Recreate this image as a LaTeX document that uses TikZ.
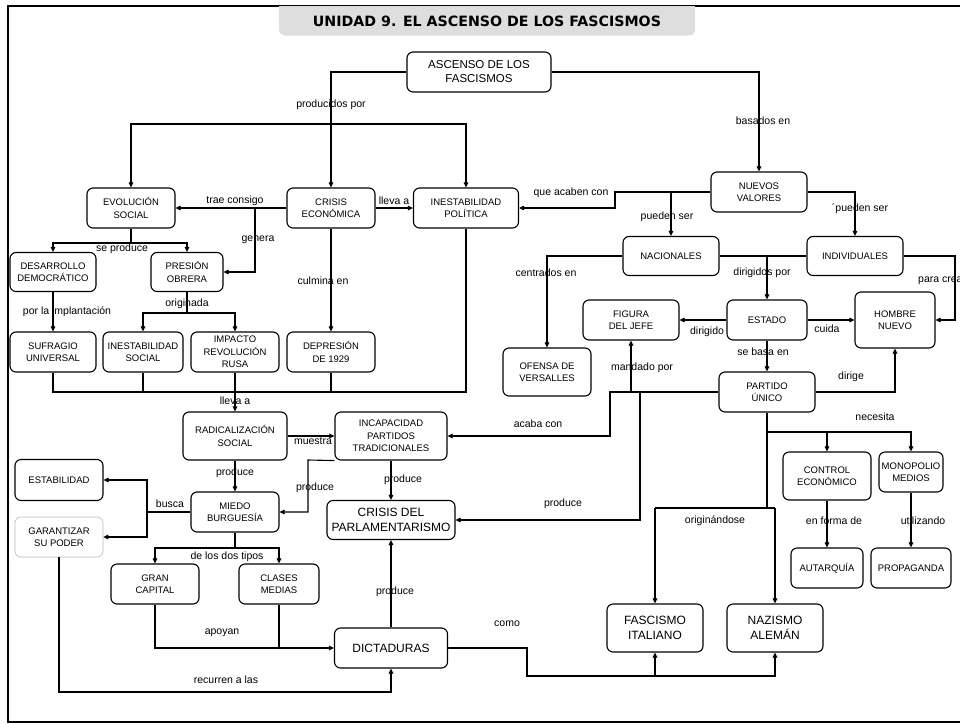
\documentclass[tikz,border=0pt]{standalone}
\usepackage{fontspec}
\setmainfont{Liberation Sans}
\newfontfamily\titlefont{DejaVu Sans}
\usetikzlibrary{arrows.meta}
\definecolor{title_gray}{RGB}{222,222,222}

\begin{document}
\begin{tikzpicture}[
    x=1pt, y=-1pt,
    box/.style={draw, rounded corners=6pt, line width=1.1pt, align=center,
                minimum width=88pt, minimum height=40pt, inner sep=1pt,
                font=\fontsize{9.5}{12.5}\selectfont},
    bigbox/.style={box, font=\fontsize{12}{15.5}\selectfont},
    lbl/.style={inner sep=0pt, font=\fontsize{10.5}{12}\selectfont},
    link/.style={line width=1.1pt},
    titlebox/.style={fill=title_gray, rounded corners=6pt, minimum width=416pt,
                     minimum height=29pt, inner sep=0pt,
                     font=\titlefont\bfseries\fontsize{14.2}{16}\selectfont},
    >={Triangle[length=5pt,width=4.5pt]}]
    \useasboundingbox (0,0) rectangle (960,723);
    % frame and title
    \draw[line width=2.2pt] (8,6) rectangle (990,722);
    \fill[title_gray] (279,6) rectangle (695,21);
    \node[titlebox] (title) at (487,21) {UNIDAD 9. EL ASCENSO DE LOS FASCISMOS};

    % concepts
    \node[box, minimum width=144pt, font=\fontsize{11.5}{14}\selectfont] (asc)
      at (479,72) {ASCENSO DE LOS\\FASCISMOS};
    \node[box] (evol) at (131,208) {EVOLUCIÓN\\SOCIAL};
    \node[box] (crisis) at (331,208) {CRISIS\\ECONÓMICA};
    \node[box, minimum width=105pt] (inpol) at (466,208) {INESTABILIDAD\\POLÍTICA};
    \node[box, minimum width=86pt, minimum height=39pt] (desarr) at (53,272)
      {DESARROLLO\\DEMOCRÁTICO};
    \node[box, minimum width=72pt, minimum height=39pt] (presion) at (187,272)
      {PRESIÓN\\OBRERA};
    \node[box, minimum width=86pt] (sufr) at (53,352) {SUFRAGIO\\UNIVERSAL};
    \node[box, minimum width=80pt] (inesoc) at (143,352) {INESTABILIDAD\\SOCIAL};
    \node[box] (impacto) at (235,352) {IMPACTO\\REVOLUCIÓN\\RUSA};
    \node[box] (depres) at (331,352) {DEPRESIÓN\\DE 1929};
    \node[box, minimum width=104pt, minimum height=48pt] (radical) at (235,436)
      {RADICALIZACIÓN\\SOCIAL};
    \node[box, minimum width=112pt, minimum height=48pt] (incap) at (391,436)
      {INCAPACIDAD\\PARTIDOS\\TRADICIONALES};
    \node[box, minimum height=41pt] (estab) at (59,480) {ESTABILIDAD};
    \node[box, draw=gray!55, line width=0.6pt] (garant) at (59,537)
      {GARANTIZAR\\SU PODER};
    \node[box] (miedo) at (235,512) {MIEDO\\BURGUESÍA};
    \node[bigbox, minimum width=128pt, minimum height=39pt] (crisispar) at (391,520)
      {CRISIS DEL\\PARLAMENTARISMO};
    \node[box] (gran) at (155,584) {GRAN\\CAPITAL};
    \node[box, minimum width=80pt] (clases) at (279,584) {CLASES\\MEDIAS};
    \node[bigbox, minimum width=113pt] (dict) at (391,648) {DICTADURAS};
    \node[box, minimum width=96pt] (nuevos) at (759,192) {NUEVOS\\VALORES};
    \node[box, minimum width=96pt, minimum height=39pt] (nacion) at (671,256)
      {NACIONALES};
    \node[box, minimum width=96pt, minimum height=39pt] (indiv) at (855,256)
      {INDIVIDUALES};
    \node[box, minimum width=96pt] (figura) at (631,320) {FIGURA\\DEL JEFE};
    \node[box, minimum width=80pt] (estado) at (767,320) {ESTADO};
    \node[box, minimum width=80pt, minimum height=56pt] (hombre) at (895,320)
      {HOMBRE\\NUEVO};
    \node[box, minimum height=48pt] (ofensa) at (547,372) {OFENSA DE\\VERSALLES};
    \node[box, minimum width=96pt] (partido) at (767,392) {PARTIDO\\ÚNICO};
    \node[box, minimum height=48pt] (control) at (827,476) {CONTROL\\ECONÓMICO};
    \node[box, minimum width=64pt] (monop) at (911,472) {MONOPOLIO\\MEDIOS};
    \node[box, minimum width=72pt] (autarq) at (827,568) {AUTARQUÍA};
    \node[box, minimum width=80pt] (propag) at (911,568) {PROPAGANDA};
    \node[bigbox, minimum width=96pt, minimum height=48pt] (fasc) at (655,628)
      {FASCISMO\\ITALIANO};
    \node[bigbox, minimum width=96pt, minimum height=48pt] (naz) at (775,628)
      {NAZISMO\\ALEMÁN};

    % junctions
    \coordinate (jprod) at (331,124);
    \coordinate (jgenera) at (255,208);
    \coordinate (jevol) at (131,243);
    \coordinate (jorigin) at (187,313);
    \coordinate (jbus) at (235,392);
    \coordinate (jincap) at (308,460);
    \coordinate (jbusca) at (147,512);
    \coordinate (jtipos) at (235,548);
    \coordinate (japoy) at (279,648);
    \coordinate (jrecur) at (59,692);
    \coordinate (jcomo) at (527,676);
    \coordinate (jacaben) at (615,192);
    \coordinate (jcrear) at (955,256);
    \coordinate (jacaba) at (610,392);
    \coordinate (jmanda) at (631,392);
    \coordinate (jpar) at (640,392);
    \coordinate (jnecesita) at (767,432);
    \coordinate (jorigina) at (767,508);

    % left half
    \draw[link, ->] (asc.west) -| (crisis.north);
    \draw[link, ->] (jprod) -| (evol.north);
    \draw[link, ->] (jprod) -| (inpol.north);
    \draw[link, ->] (crisis.west) -- (evol.east);
    \draw[link, ->] (crisis.east) -- (inpol.west);
    \draw[link, ->] (jgenera) |- (presion.east);
    \draw[link] (evol.south) -- (jevol);
    \draw[link, ->] (jevol) -| (desarr.north);
    \draw[link, ->] (jevol) -| (presion.north);
    \draw[link, ->] (desarr.south) -- (sufr.north);
    \draw[link] (presion.south) -- (jorigin);
    \draw[link, ->] (jorigin) -| (inesoc.north);
    \draw[link, ->] (jorigin) -| (impacto.north);
    \draw[link, ->] (crisis.south) -- (depres.north);
    \draw[link] (sufr.south) |- (inpol.south |- jbus) -- (inpol.south);
    \draw[link] (inesoc.south) -- (inesoc.south |- jbus);
    \draw[link] (depres.south) -- (depres.south |- jbus);
    \draw[link, ->] (impacto.south) -- (radical.north);
    \draw[link, ->] (radical.east) -- (incap.west);
    \draw[link, ->] (radical.south) -- (miedo.north);
    \draw[link, ->] (incap.south west) -- (jincap) |- (miedo.east);
    \draw[link, ->] (incap.south) -- (crisispar.north);
    \draw[link, ->] (miedo.west) -- (jbusca) |- (estab.east);
    \draw[link, ->] (jbusca) |- (garant.east);
    \draw[link] (miedo.south) -- (jtipos);
    \draw[link, ->] (jtipos) -| (gran.north);
    \draw[link, ->] (jtipos) -| (clases.north);
    \draw[link, ->] (gran.south) |- (dict.west);
    \draw[link] (clases.south) -- (japoy);
    \draw[link, ->] (garant.south) -- (jrecur) -| (dict.south);
    \draw[link, ->] (dict.north) -- (crisispar.south);
    \draw[link, ->] (dict.east) -| (jcomo) -| (naz.south);
    \draw[link, ->] (fasc.south |- jcomo) -- (fasc.south);

    % right half
    \draw[link, ->] (asc.east) -| (nuevos.north);
    \draw[link, ->] (nuevos.west) -- (jacaben) |- (inpol.east);
    \draw[link, ->] (nuevos.west -| nacion.north) -- (nacion.north);
    \draw[link, ->] (nuevos.east) -| (indiv.north);
    \draw[link, ->] (nacion.west) -| (ofensa.north);
    \draw[link] (nacion.east) -- (indiv.west);
    \draw[link, ->] (nacion.east -| estado.north) -- (estado.north);
    \draw[link, ->] (indiv.east) -- (jcrear) |- (hombre.east);
    \draw[link, ->] (estado.west) -- (figura.east);
    \draw[link, ->] (estado.east) -- (hombre.west);
    \draw[link, ->] (estado.south) -- (partido.north);
    \draw[link, ->] (partido.east) -| (hombre.south);
    \draw[link, ->] (partido.west) -- (jacaba) |- (incap.east);
    \draw[link, ->] (jmanda) -- (figura.south);
    \draw[link, ->] (jpar) |- (crisispar.east);
    \draw[link] (partido.south) -- (jorigina);
    \draw[link, ->] (jnecesita) -| (control.north);
    \draw[link, ->] (jnecesita) -| (monop.north);
    \draw[link] (fasc.north |- jorigina) -- (naz.north |- jorigina);
    \draw[link, ->] (fasc.north |- jorigina) -- (fasc.north);
    \draw[link, ->] (naz.north |- jorigina) -- (naz.north);
    \draw[link, ->] (control.south) -- (autarq.north);
    \draw[link, ->] (monop.south) -- (propag.north);

    % linking words
    \node[lbl] (lproducidos) at (331,105) {producidos por};
    \node[lbl] (ltrae) at (235,201) {trae consigo};
    \node[lbl] (llleva) at (394,201) {lleva a};
    \node[lbl] (lgenera) at (258,240) {genera};
    \node[lbl] (lseproduce) at (122,249) {se produce};
    \node[lbl] (limplant) at (67,312) {por la implantación};
    \node[lbl] (loriginada) at (187,304) {originada};
    \node[lbl] (lculmina) at (323,281) {culmina en};
    \node[lbl] (llevarad) at (235,401) {lleva a};
    \node[lbl] (lmuestra) at (313,441) {muestra};
    \node[lbl] (lprodmiedo) at (235,473) {produce};
    \node[lbl] (lprodincap) at (315,488) {produce};
    \node[lbl] (lprodcrisis) at (403,480) {produce};
    \node[lbl] (lbusca) at (170,504) {busca};
    \node[lbl] (ltipos) at (227,557) {de los dos tipos};
    \node[lbl] (lapoyan) at (222,633) {apoyan};
    \node[lbl] (lrecurren) at (226,680) {recurren a las};
    \node[lbl] (lproddict) at (395,592) {produce};
    \node[lbl] (lcomo) at (507,624) {como};
    \node[lbl] (lbasados) at (763,121) {basados en};
    \node[lbl] (lacaben) at (571,193) {que acaben con};
    \node[lbl] (lpueden) at (667,217) {pueden ser};
    \node[lbl] (lpueden2) at (860,209) {´pueden ser};
    \node[lbl] (lcentrados) at (546,273) {centrados en};
    \node[lbl] (ldirigidos) at (762,273) {dirigidos por};
    \node[lbl, anchor=west] (lcrear) at (918,281) {para crear};
    \node[lbl] (ldirigido) at (707,332) {dirigido};
    \node[lbl] (lcuida) at (827,329) {cuida};
    \node[lbl] (lbasa) at (763,352) {se basa en};
    \node[lbl] (ldirige) at (851,377) {dirige};
    \node[lbl] (lacaba) at (538,424) {acaba con};
    \node[lbl] (lmandado) at (642,368) {mandado por};
    \node[lbl] (lprodpart) at (563,504) {produce};
    \node[lbl] (lnecesita) at (875,417) {necesita};
    \node[lbl] (loriginandose) at (715,521) {originándose};
    \node[lbl] (lforma) at (834,521) {en forma de};
    \node[lbl] (lutilizando) at (923,521) {utilizando};
\end{tikzpicture}
\end{document}
